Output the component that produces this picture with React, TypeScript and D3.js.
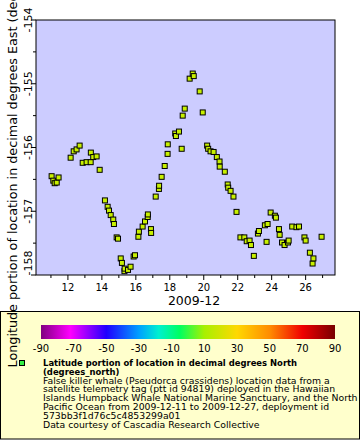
import React from "react";
import * as d3 from "d3";

// Day of month (2009-12) and longitude (degrees East)
const days = [
  11.04, 11.14, 11.22, 11.34, 11.45, 12.16, 12.34, 12.51, 12.69, 12.87,
  13.10, 13.34, 13.35, 13.49, 13.69, 13.87, 14.18, 14.34, 14.42, 14.52,
  14.67, 14.71, 14.87, 14.95, 15.11, 15.18, 15.33, 15.34, 15.54, 15.69,
  15.87, 15.95, 16.15, 16.18, 16.40, 16.54, 16.70, 16.71, 16.89, 16.90,
  17.17, 17.36, 17.37, 17.52, 17.70, 17.87, 17.88, 18.32, 18.36, 18.54,
  18.70, 18.76, 18.88, 19.17, 19.35, 19.41, 19.76, 19.94, 20.20, 20.26,
  20.40, 20.58, 20.77, 20.93, 20.94, 21.24, 21.41, 21.44, 21.58, 21.75,
  21.93, 22.16, 22.39, 22.53, 22.70, 22.78, 22.95, 23.19, 23.25, 23.60,
  23.70, 23.76, 23.94, 24.19, 24.25, 24.43, 24.47, 24.61, 24.76, 24.96,
  25.00, 25.21, 25.46, 25.61, 25.93, 26.00, 26.25, 26.41, 26.46, 26.94,
];
const lons = [
  -156.45, -156.52, -156.56, -156.55, -156.47, -156.16, -156.06, -156.03, -155.97, -156.24,
  -156.23, -156.23, -156.08, -156.15, -156.14, -156.35, -156.83, -156.93, -156.99, -157.06,
  -157.13, -157.20, -157.41, -157.43, -157.74, -157.81, -157.94, -157.90, -157.92, -157.87,
  -157.71, -157.69, -157.40, -157.32, -157.24, -157.16, -157.09, -157.05, -157.28, -157.34,
  -156.77, -156.65, -156.60, -156.46, -156.29, -156.10, -155.95, -155.78, -155.82, -155.75,
  -156.02, -155.50, -155.39, -154.92, -154.84, -154.88, -155.12, -155.45, -155.97, -156.02,
  -156.06, -156.07, -156.15, -156.22, -156.30, -156.38, -156.58, -156.63, -156.68, -156.77,
  -157.01, -157.41, -157.41, -157.47, -157.46, -157.53, -157.70, -157.35, -157.31, -157.22,
  -157.48, -157.20, -157.02, -157.07, -157.10, -157.28, -157.37, -157.49, -157.53, -157.49,
  -157.46, -157.24, -157.25, -157.24, -157.41, -157.46, -157.65, -157.82, -157.74, -157.40,
];

const xMajorTicks = [12, 14, 16, 18, 20, 22, 24, 26];
const xMinorTicks = [11, 13, 15, 17, 19, 21, 23, 25, 27];
const yMajorTicks = [-158, -157, -156, -155, -154];
const yMinorTicks = [-157.5, -156.5, -155.5, -154.5];
const colorTicks = [-90, -70, -50, -30, -10, 10, 30, 50, 70, 90];
const colorStops: [number, string][] = [
  [-90, "#800080"], [-72, "#ff00ff"], [-50, "#2000ff"], [-30, "#00a0ff"],
  [-18, "#00f0d0"], [-5, "#00ff60"], [10, "#a8f000"], [30, "#ffd800"],
  [50, "#ff8c00"], [70, "#f00000"], [90, "#780000"],
];
const legendTitle = ["Latitude portion of location in decimal degrees North", "(degrees_north)"];
const legendLines = [
  "False killer whale (Pseudorca crassidens) location data from a",
  "satellite telemetry tag (ptt id 94819) deployed in the Hawaiian",
  "Islands Humpback Whale National Marine Sanctuary, and the North",
  "Pacific Ocean from 2009-12-11 to 2009-12-27, deployment id",
  "573bb3f1d76c5c4853299a01",
  "Data courtesy of Cascadia Research Collective",
];

const W = 360, H = 440;
const L = 36, R = 335, T = 20, B = 275;
const FONT = "DejaVu Sans";

export default function App() {
  const x = d3.scaleLinear().domain([10.12, 27.73]).range([L, R]);
  const y = d3.scaleLinear().domain([-158, -154]).range([B, T]);
  const cx = d3.scaleLinear().domain([-90, 90]).range([41, 335]);
  const markerFill = "#c8f000";
  const ms = 5;

  return (
    <svg width={W} height={H} style={{ position: "absolute", left: 0, top: 0 }} fontFamily={FONT}>
      <defs>
        <linearGradient id="cbar" x1="0" x2="1" y1="0" y2="0">
          {colorStops.map(([v, c], i) => (
            <stop key={i} offset={(v + 90) / 180} stopColor={c} />
          ))}
        </linearGradient>
      </defs>
      <rect x={0} y={0} width={W} height={H} fill="#ffffff" />
      <rect x={L} y={T} width={R - L} height={B - T} fill="#ccccff" />

      {/* markers */}
      {days.map((d, i) => (
        <rect
          key={i}
          x={x(d) - ms / 2}
          y={y(lons[i]) - ms / 2}
          width={ms}
          height={ms}
          fill={markerFill}
          stroke="#000"
          strokeWidth={1}
        />
      ))}

      <rect x={L} y={T} width={R - L} height={B - T} fill="none" stroke="#000" strokeWidth={1} />

      {/* x ticks */}
      {xMajorTicks.map((t) => (
        <g key={"xm" + t}>
          <line x1={x(t)} x2={x(t)} y1={B} y2={B + 5} stroke="#000" />
          <text x={x(t)} y={291} fontSize={10} textAnchor="middle">{t}</text>
        </g>
      ))}
      {xMinorTicks.map((t) => (
        <line key={"xn" + t} x1={x(t)} x2={x(t)} y1={B} y2={B + 3} stroke="#000" />
      ))}
      <text x={194} y={305} fontSize={12.5} textAnchor="middle">2009-12</text>

      {/* y ticks */}
      {yMajorTicks.map((t) => {
        const cy = Math.min(Math.max(y(t), 15), 263);
        return (
          <g key={"ym" + t}>
            <line x1={L - 5} x2={L} y1={y(t)} y2={y(t)} stroke="#000" />
            <text transform={`translate(32,${cy}) rotate(-90)`} fontSize={11} textAnchor="middle">{t}</text>
          </g>
        );
      })}
      {yMinorTicks.map((t) => (
        <line key={"yn" + t} x1={L - 3} x2={L} y1={y(t)} y2={y(t)} stroke="#000" />
      ))}

      {/* legend */}
      <rect x={0.5} y={311.5} width={359} height={127.5} fill="#ffffcc" stroke="#000" strokeWidth={1} />
      <rect x={41} y={325} width={294} height={14} fill="url(#cbar)" />
      {colorTicks.map((t) => (
        <text key={"c" + t} x={cx(t)} y={352} fontSize={10} textAnchor="middle">{t}</text>
      ))}
      <rect x={19.5} y={360.5} width={5} height={5} fill="#33ee44" stroke="#000" strokeWidth={1} />
      {legendTitle.map((s, i) => (
        <text key={"lt" + i} x={43} y={366 + i * 8.6} fontSize={8.45} fontWeight="bold">{s}</text>
      ))}
      {legendLines.map((s, i) => (
        <text key={"ll" + i} x={43} y={383.5 + i * 8.8} fontSize={9.3}>{s}</text>
      ))}

      {/* y axis title (drawn last, overlaps legend as in the original) */}
      <text transform={`translate(17,${(T + B) / 2}) rotate(-90)`} fontSize={12.75} textAnchor="middle">
        Longitude portion of location in decimal degrees East (degrees_east)
      </text>
    </svg>
  );
}
